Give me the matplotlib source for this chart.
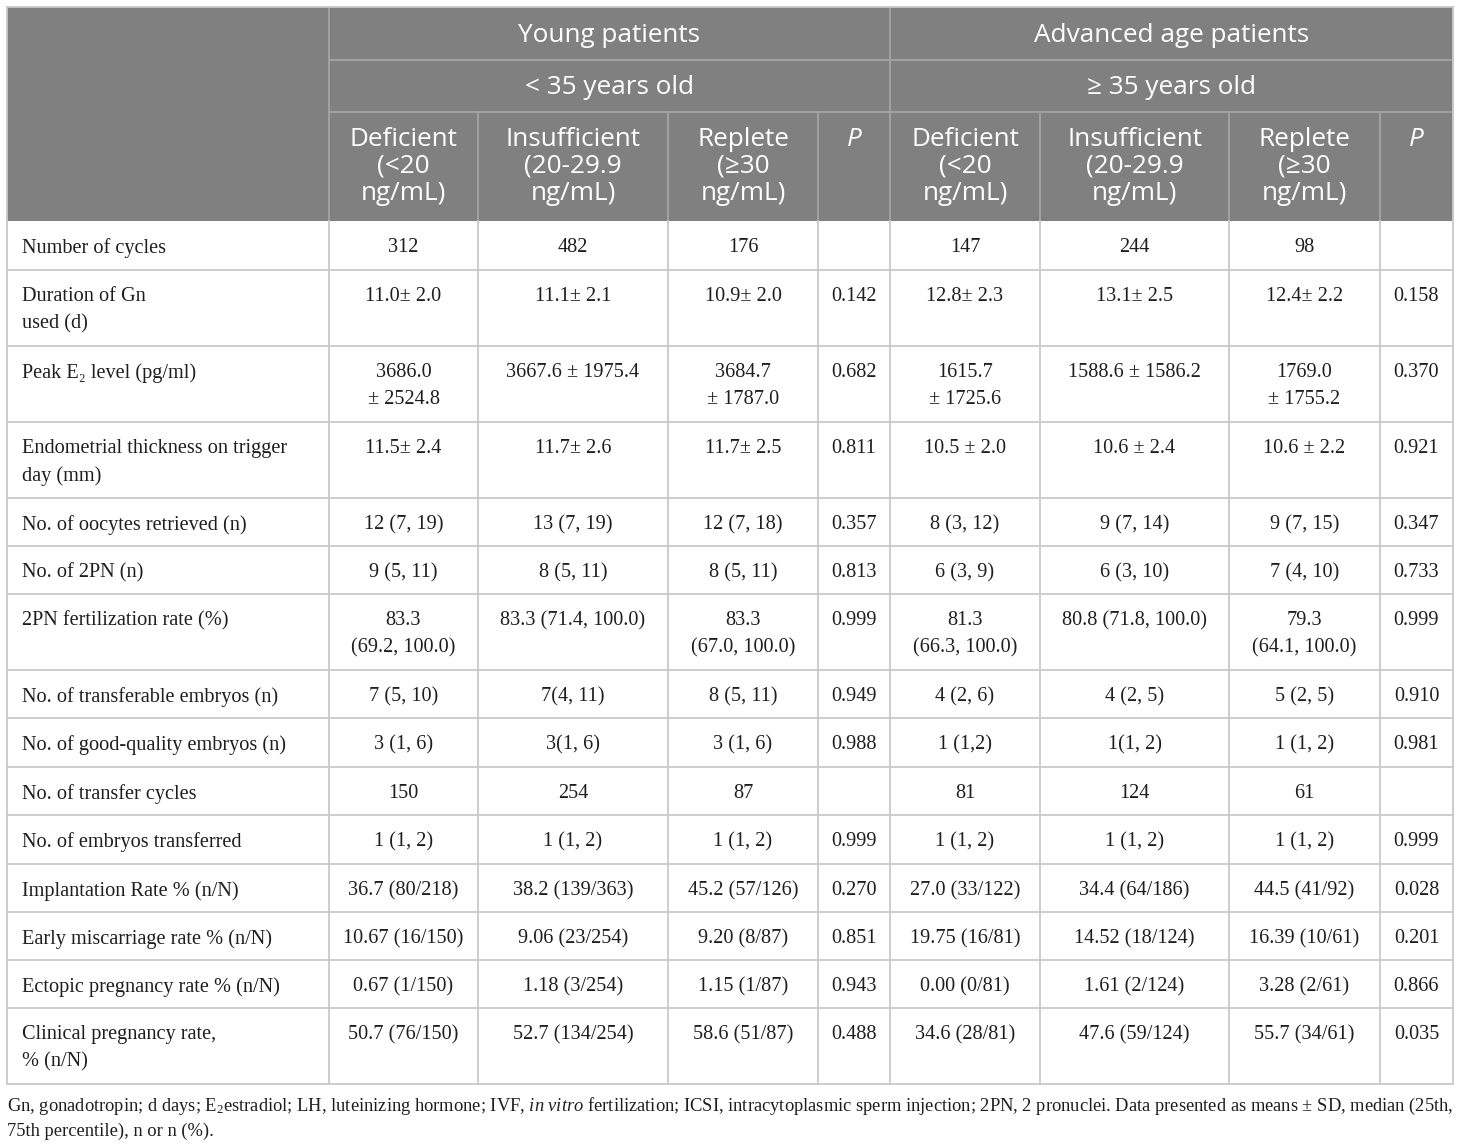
import matplotlib
matplotlib.use("Agg")
from matplotlib import pyplot as plt
from matplotlib.patches import Rectangle

plt.rcParams['mathtext.fontset'] = 'custom'
plt.rcParams['mathtext.rm'] = 'Liberation Serif'
plt.rcParams['mathtext.it'] = 'Liberation Serif:italic'

groups = ["Young patients", "Advanced age patients"]
age_labels = ["< 35 years old", "≥ 35 years old"]
level_labels = ["Deficient\n(<20\nng/mL)", "Insufficient\n(20-29.9\nng/mL)", "Replete\n(≥30\nng/mL)", "P"]

row_labels = ["Number of cycles", "Duration of Gn\nused (d)", "Peak E₂ level (pg/ml)",
              "Endometrial thickness on trigger\nday (mm)", "No. of oocytes retrieved (n)",
              "No. of 2PN (n)", "2PN fertilization rate (%)", "No. of transferable embryos (n)",
              "No. of good-quality embryos (n)", "No. of transfer cycles",
              "No. of embryos transferred", "Implantation Rate % (n/N)",
              "Early miscarriage rate % (n/N)", "Ectopic pregnancy rate % (n/N)",
              "Clinical pregnancy rate,\n% (n/N)"]

young_def = ["312", "11.0± 2.0", "3686.0\n± 2524.8", "11.5± 2.4", "12 (7, 19)", "9 (5, 11)",
             "83.3\n(69.2, 100.0)", "7 (5, 10)", "3 (1, 6)", "150", "1 (1, 2)",
             "36.7 (80/218)", "10.67 (16/150)", "0.67 (1/150)", "50.7 (76/150)"]
young_ins = ["482", "11.1± 2.1", "3667.6 ± 1975.4", "11.7± 2.6", "13 (7, 19)", "8 (5, 11)",
             "83.3 (71.4, 100.0)", "7(4, 11)", "3(1, 6)", "254", "1 (1, 2)",
             "38.2 (139/363)", "9.06 (23/254)", "1.18 (3/254)", "52.7 (134/254)"]
young_rep = ["176", "10.9± 2.0", "3684.7\n± 1787.0", "11.7± 2.5", "12 (7, 18)", "8 (5, 11)",
             "83.3\n(67.0, 100.0)", "8 (5, 11)", "3 (1, 6)", "87", "1 (1, 2)",
             "45.2 (57/126)", "9.20 (8/87)", "1.15 (1/87)", "58.6 (51/87)"]
young_p = ["", "0.142", "0.682", "0.811", "0.357", "0.813", "0.999", "0.949", "0.988", "",
           "0.999", "0.270", "0.851", "0.943", "0.488"]
adv_def = ["147", "12.8± 2.3", "1615.7\n± 1725.6", "10.5 ± 2.0", "8 (3, 12)", "6 (3, 9)",
           "81.3\n(66.3, 100.0)", "4 (2, 6)", "1 (1,2)", "81", "1 (1, 2)",
           "27.0 (33/122)", "19.75 (16/81)", "0.00 (0/81)", "34.6 (28/81)"]
adv_ins = ["244", "13.1± 2.5", "1588.6 ± 1586.2", "10.6 ± 2.4", "9 (7, 14)", "6 (3, 10)",
           "80.8 (71.8, 100.0)", "4 (2, 5)", "1(1, 2)", "124", "1 (1, 2)",
           "34.4 (64/186)", "14.52 (18/124)", "1.61 (2/124)", "47.6 (59/124)"]
adv_rep = ["98", "12.4± 2.2", "1769.0\n± 1755.2", "10.6 ± 2.2", "9 (7, 15)", "7 (4, 10)",
           "79.3\n(64.1, 100.0)", "5 (2, 5)", "1 (1, 2)", "61", "1 (1, 2)",
           "44.5 (41/92)", "16.39 (10/61)", "3.28 (2/61)", "55.7 (34/61)"]
adv_p = ["", "0.158", "0.370", "0.921", "0.347", "0.733", "0.999", "0.910", "0.981", "",
         "0.999", "0.028", "0.201", "0.866", "0.035"]

footnote = ("Gn, gonadotropin; d days; E$_2$estradiol; LH, luteinizing hormone; IVF, $\\mathit{in\\ vitro}$ "
            "fertilization; ICSI, intracytoplasmic sperm injection; 2PN, 2 pronuclei. Data presented as means ± SD, median (25th,\n"
            "75th percentile), n or n (%).")

columns = [young_def, young_ins, young_rep, young_p, adv_def, adv_ins, adv_rep, adv_p]

# layout in pixels
col_x = [7, 329, 478, 668, 818, 890, 1040, 1229, 1380, 1453]
head_y = [7, 60, 112, 221]
row_y = [221, 270, 346, 422, 498, 546, 594, 670, 718, 767, 815, 864, 912, 960, 1008, 1084]

head_bg = "#7f807f"
head_line = "#a3a4a3"
body_line = "#c9c9c9"
txt = "#1e1e1e"
serif = ["Liberation Serif", "DejaVu Serif"]
sans = ["Open Sans", "DejaVu Sans"]

fig = plt.figure(figsize=(14.6, 11.46), dpi=100)
ax = fig.add_axes([0, 0, 1, 1])
ax.set_xlim(0, 1460)
ax.set_ylim(1146, 0)
ax.axis("off")

# header background
ax.add_patch(Rectangle((col_x[0], head_y[0]), col_x[-1] - col_x[0], head_y[-1] - head_y[0],
                       facecolor=head_bg, edgecolor="none"))

lw = 1.3
# header lines
for y in head_y[1:3]:
    ax.plot([col_x[1], col_x[-1]], [y, y], color=head_line, lw=lw)
for i, x in enumerate(col_x[1:-1], start=1):
    top = head_y[0] if i in (1, 5) else head_y[2]
    ax.plot([x, x], [top, head_y[3]], color=head_line, lw=lw)

# header text
hsize = 18.8
for g in range(2):
    xc = (col_x[1 + 4 * g] + col_x[5 + 4 * g]) / 2
    ax.text(xc, 36, groups[g], ha="center", va="center", color="white", fontsize=hsize, family=sans)
    ax.text(xc, 88, age_labels[g], ha="center", va="center", color="white", fontsize=hsize, family=sans)
    for k, lab in enumerate(level_labels):
        c = 1 + 4 * g + k
        xm = (col_x[c] + col_x[c + 1]) / 2
        ax.text(xm, 126.5, lab, ha="center", va="top", color="white", fontsize=hsize, family=sans,
                linespacing=1.12, style="italic" if lab == "P" else "normal")

# body grid
for y in row_y[1:]:
    ax.plot([col_x[0], col_x[-1]], [y, y], color=body_line, lw=lw)
for x in col_x:
    ax.plot([x, x], [row_y[0], row_y[-1]], color=body_line, lw=lw)
ax.plot([col_x[0], col_x[-1]], [head_y[0], head_y[0]], color=body_line, lw=lw)
ax.plot([col_x[0], col_x[0]], [head_y[0], head_y[-1]], color=body_line, lw=lw)
ax.plot([col_x[-1], col_x[-1]], [head_y[0], head_y[-1]], color=body_line, lw=lw)

# body text
bsize = 14.6
for r, lab in enumerate(row_labels):
    top = row_y[r] + 17
    ax.text(22, top, lab, ha="left", va="top", fontsize=bsize, family=serif,
            color=txt, linespacing=1.57)
    for c, col in enumerate(columns):
        xm = (col_x[c + 1] + col_x[c + 2]) / 2
        ax.text(xm, top, col[r], ha="center", va="top", fontsize=bsize, family=serif,
                color=txt, linespacing=1.57)

ax.text(7, 1095.5, footnote, ha="left", va="top", fontsize=13.3, family=serif,
        color=txt, linespacing=1.45)

fig.savefig("out.png", dpi=100)
